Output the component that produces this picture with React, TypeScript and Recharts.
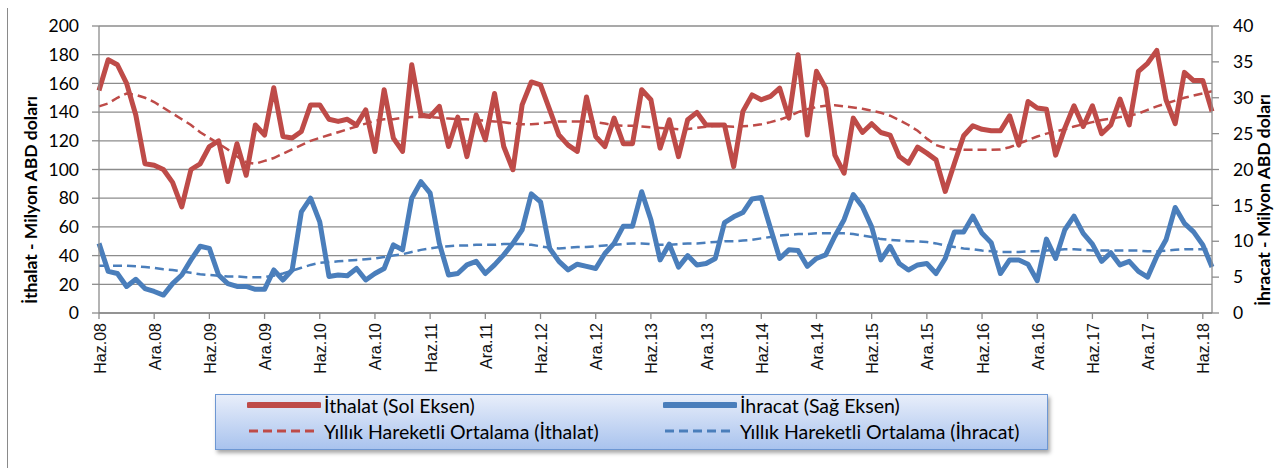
import { LineChart, Line, XAxis, YAxis, CartesianGrid, Label } from 'recharts';

// Aylık ithalat (sol eksen, milyon $) – Haz.08 .. Tem.18
const ithalat = [
  155, 176.5, 173, 160, 138, 104, 103, 100, 91, 74, 100, 104, 116, 120, 91.6, 118, 96, 131, 124, 157,
  123, 122, 126.5, 145, 145, 135, 133.5, 135, 131, 141.6, 112.5, 155.6,
  121.9, 112.6, 173, 138, 137, 144, 116, 136.5, 109, 138, 120.7, 153, 116, 99.8, 145, 161, 159, 141.6,
  124, 117, 112.6, 150.5, 123, 116, 135.8, 118, 118, 155.6, 148.6, 114.9,
  134.7, 109, 134.7, 139.8, 131, 131, 131, 102, 140.5, 152, 148.6, 151, 156.7, 135.8, 180, 124, 168.4,
  156.7, 110, 97.4, 135.8, 125.8, 131.9, 125.8, 124, 109, 104.4, 115.6, 111.4, 106.7,
  84.7, 104.4, 123.5, 130.5, 128, 127, 127, 137.4, 117, 147.4, 142.8, 142, 110, 128.8, 144.4, 130, 144.4,
  124.9, 131, 149, 131, 168.4, 174, 183, 148.6, 132, 167.7, 162, 162, 140.5,
];

const ithalatMA = [
  144, 146, 150, 153, 152, 150, 147, 143, 139, 135, 131, 126, 122, 118, 114, 109, 105, 104, 106, 108,
  111, 114, 117, 120, 122, 124, 126, 128, 130, 132, 134, 135,
  135, 136, 136.5, 136.5, 136.5, 136, 135.5, 135, 135, 134.5, 134, 133.5, 133, 132, 131.5, 131.5, 132, 133,
  133.5, 133.5, 133.5, 133.5, 133, 132, 131, 130.5, 130.5, 130, 129.5, 129,
  128.5, 128, 128.3, 129, 129.8, 130.5, 130.2, 129.8, 130.2, 130.5, 131.5, 133, 134.7, 137, 140, 142, 143.5,
  144.5, 144.8, 144, 143.2, 142.3, 141, 139.5, 137.5, 134.5, 131, 127, 121.5, 117,
  115, 114, 113.7, 113.7, 113.7, 113.7, 114, 115.5, 118, 120.5, 123, 125, 126.5, 128, 130, 131.5, 133,
  134.5, 135.5, 136.5, 137.5, 139, 141.5, 144, 146, 148, 150, 151.5, 153, 154.5,
];

// Aylık ihracat (sağ eksen, milyon $)
const ihracat = [
  9.7, 5.8, 5.5, 3.7, 4.7, 3.4, 3.0, 2.5, 4.1, 5.3, 7.4, 9.3, 9.0, 5.3, 4.1, 3.7, 3.7, 3.3, 3.3, 6.0,
  4.6, 6.0, 14.1, 16.0, 12.7, 5.1, 5.3, 5.2, 6.2, 4.6, 5.5, 6.2,
  9.5, 8.8, 16.0, 18.3, 16.7, 9.7, 5.3, 5.5, 6.7, 7.2, 5.5, 6.7, 8.1, 9.7, 11.6, 16.6, 15.5, 9.0,
  7.2, 6.0, 6.8, 6.5, 6.2, 8.3, 9.7, 12.1, 12.1, 16.9, 13.0, 7.4,
  9.6, 6.4, 8.0, 6.7, 6.9, 7.6, 12.6, 13.4, 14.0, 15.9, 16.1, 11.8, 7.6, 8.8, 8.7, 6.5, 7.6,
  8.1, 10.7, 13.0, 16.5, 14.8, 12.0, 7.4, 9.3, 6.9, 6.0, 6.7, 6.9, 5.5,
  7.6, 11.3, 11.3, 13.5, 11.1, 9.8, 5.5, 7.4, 7.4, 6.8, 4.5, 10.3, 7.6, 11.6, 13.5, 11.1, 9.6,
  7.2, 8.4, 6.7, 7.2, 5.8, 5.0, 7.9, 10.2, 14.7, 12.5, 11.3, 9.5, 6.4,
];

const ihracatMA = [
  6.6, 6.6, 6.6, 6.6, 6.5, 6.4, 6.3, 6.1, 6.0, 5.8, 5.6, 5.4, 5.3, 5.2, 5.1, 5.1, 5.0, 5.0, 5.0, 5.2,
  5.5, 5.9, 6.3, 6.7, 7.0, 7.1, 7.2, 7.3, 7.4, 7.5, 7.6, 7.8,
  8.0, 8.2, 8.5, 8.8, 9.0, 9.2, 9.3, 9.4, 9.4, 9.5, 9.5, 9.5, 9.6, 9.6, 9.6, 9.5, 9.3, 9.1,
  9.0, 9.1, 9.2, 9.2, 9.3, 9.4, 9.5, 9.6, 9.7, 9.7, 9.6, 9.5,
  9.5, 9.6, 9.7, 9.7, 9.8, 9.9, 10.0, 10.0, 10.1, 10.2, 10.4, 10.6, 10.8, 10.9, 11.0, 11.0, 11.1,
  11.1, 11.1, 11.1, 11.0, 10.8, 10.6, 10.3, 10.2, 10.1, 10.0, 10.0, 9.9, 9.7,
  9.4, 9.2, 9.0, 8.9, 8.7, 8.6, 8.5, 8.5, 8.5, 8.6, 8.6, 8.7, 8.8, 8.9, 8.9, 8.8, 8.7,
  8.7, 8.7, 8.7, 8.7, 8.7, 8.6, 8.6, 8.7, 8.8, 8.9, 8.9, 8.9, 8.9,
];

const monthNames = ['Oca', 'Şub', 'Mar', 'Nis', 'May', 'Haz', 'Tem', 'Ağu', 'Eyl', 'Eki', 'Kas', 'Ara'];
const leftTicks = [0, 20, 40, 60, 80, 100, 120, 140, 160, 180, 200];
const rightTicks = [0, 5, 10, 15, 20, 25, 30, 35, 40];

// categories start at June 2008
const months = ithalat.map((_, i) => {
  const m = 5 + i;
  return `${monthNames[m % 12]}.${String(8 + Math.floor(m / 12)).padStart(2, '0')}`;
});

const data = months.map((month, i) => ({
  month,
  ithalat: ithalat[i],
  ithalatMA: ithalatMA[i],
  ihracat: ihracat[i],
  ihracatMA: ihracatMA[i],
}));

const RED = '#be4b48';
const BLUE = '#4a7ebb';
const GRID = '#8c8c8c';

const legendItems = [
  { label: 'İthalat (Sol Eksen)', color: RED, dashed: false, left: 246, top: 10 },
  { label: 'İhracat (Sağ Eksen)', color: BLUE, dashed: false, left: 662, top: 10 },
  { label: 'Yıllık Hareketli Ortalama (İthalat)', color: RED, dashed: true, left: 246, top: 36 },
  { label: 'Yıllık Hareketli Ortalama (İhracat)', color: BLUE, dashed: true, left: 662, top: 36 },
];

const XTick = (props: any) => {
  const { x, y, payload } = props;
  return (
    <text
      x={x + 1}
      y={y + 2}
      transform={`rotate(-90 ${x + 1} ${y + 2})`}
      textAnchor="end"
      dominantBaseline="central"
      fontFamily="'Liberation Sans', Arial, sans-serif"
      fontSize={16}
      fill="#111"
    >
      {payload.value}
    </text>
  );
};

const axisTitle = (text: string, x: number, y: number) => () => (
  <text
    x={x}
    y={y}
    transform={`rotate(-90 ${x} ${y})`}
    textAnchor="middle"
    dominantBaseline="central"
    fontFamily="Lato, sans-serif"
    fontWeight="bold"
    fontSize={17.5}
    fill="#000"
  >
    {text}
  </text>
);

function ChartLegend() {
  return (
    <div
      style={{
        position: 'absolute',
        left: 215,
        top: 394,
        width: 833,
        height: 56,
        boxSizing: 'border-box',
        border: '1px solid #6d97d3',
        background: 'linear-gradient(#e8eefa, #a9c3ee)',
        boxShadow: '2px 3px 4px rgba(0,0,0,0.35)',
        fontFamily: 'Lato, sans-serif',
        fontSize: 19.5,
        color: '#000',
      }}
    >
      {legendItems.map((it) => (
        <div
          key={it.label}
          style={{
            position: 'absolute',
            left: it.left - 215,
            top: it.top - 11,
            height: 22,
            display: 'flex',
            alignItems: 'center',
            whiteSpace: 'nowrap',
          }}
        >
          <svg width={74} height={10} style={{ marginRight: 3 }}>
            <line
              x1={2}
              x2={72}
              y1={5}
              y2={5}
              stroke={it.color}
              strokeWidth={it.dashed ? 3 : 6}
              strokeLinecap={it.dashed ? 'butt' : 'round'}
              strokeDasharray={it.dashed ? '9 5' : undefined}
            />
          </svg>
          <span>{it.label}</span>
        </div>
      ))}
    </div>
  );
}

export default function App() {
  return (
    <div style={{ position: 'absolute', left: 0, top: 0, width: 1285, height: 468, background: '#fff', overflow: 'hidden' }}>
      <div style={{ position: 'absolute', left: 7, top: 8, height: 470, borderLeft: '1px solid #8a8a8a' }} />
      <LineChart width={1285} height={468} data={data} margin={{ top: 26, right: 0, bottom: 85, left: 0 }}>
        <CartesianGrid yAxisId="left" vertical={false} stroke={GRID} strokeWidth={1.3} />
        <XAxis
          dataKey="month"
          scale="point"
          interval={5}
          height={70}
          tickSize={6}
          tick={<XTick />}
          axisLine={{ stroke: GRID, strokeWidth: 1.3 }}
          tickLine={{ stroke: GRID, strokeWidth: 1.3 }}
        />
        <YAxis
          yAxisId="left"
          domain={[0, 200]}
          ticks={leftTicks}
          interval={0}
          width={99}
          tickSize={7}
          tickMargin={13}
          axisLine={{ stroke: GRID, strokeWidth: 1.3 }}
          tickLine={{ stroke: GRID, strokeWidth: 1.3 }}
          tick={{ fontFamily: 'Lato, sans-serif', fontSize: 17.5, fill: '#000' }}
        >
          <Label content={axisTitle('İthalat - Milyon ABD doları', 30, 200)} />
        </YAxis>
        <YAxis
          yAxisId="right"
          orientation="right"
          domain={[0, 40]}
          ticks={rightTicks}
          interval={0}
          width={73}
          tickSize={7}
          tickMargin={14}
          axisLine={{ stroke: GRID, strokeWidth: 1.3 }}
          tickLine={{ stroke: GRID, strokeWidth: 1.3 }}
          tick={{ fontFamily: 'Lato, sans-serif', fontSize: 17.5, fill: '#000', textAnchor: 'start' }}
        >
          <Label content={axisTitle('İhracat - Milyon ABD doları', 1263, 200)} />
        </YAxis>
        <Line yAxisId="left" dataKey="ithalat" stroke={RED} strokeWidth={5} strokeLinejoin="round" dot={false} isAnimationActive={false} />
        <Line yAxisId="left" dataKey="ithalatMA" stroke={RED} strokeWidth={2.5} strokeDasharray="9 5" dot={false} isAnimationActive={false} />
        <Line yAxisId="right" dataKey="ihracat" stroke={BLUE} strokeWidth={5} strokeLinejoin="round" dot={false} isAnimationActive={false} />
        <Line yAxisId="right" dataKey="ihracatMA" stroke={BLUE} strokeWidth={2.5} strokeDasharray="9 5" dot={false} isAnimationActive={false} />
      </LineChart>
      <ChartLegend />
    </div>
  );
}
